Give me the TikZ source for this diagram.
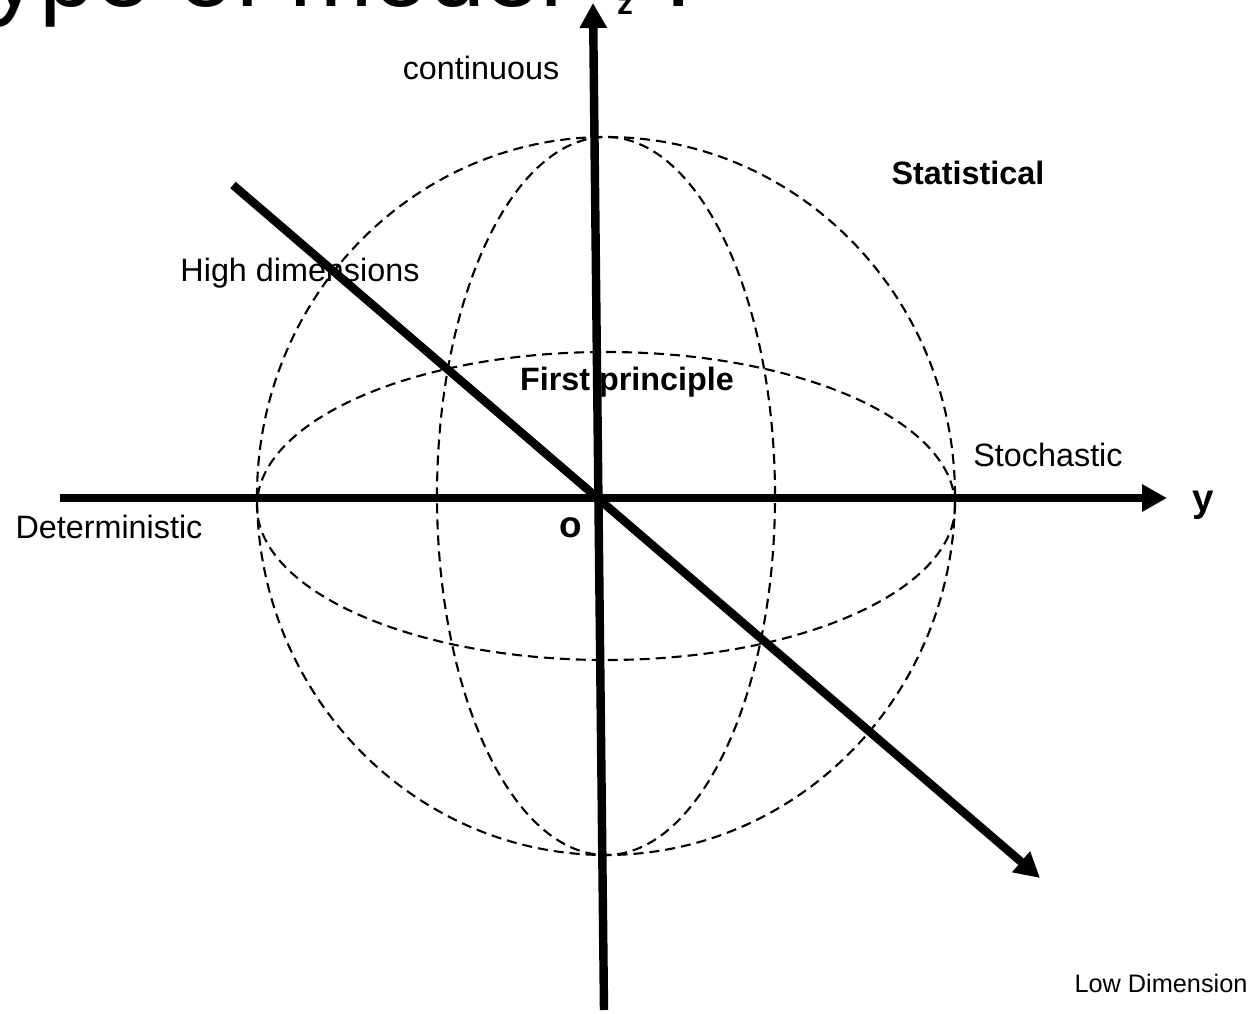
\documentclass[tikz,border=0pt]{standalone}
\usepackage{fontspec}
\setmainfont{Liberation Sans}
\usetikzlibrary{arrows.meta}

\begin{document}
\begin{tikzpicture}[
    axis/.style={line width=2.4pt, -{Triangle[length=0.25cm,width=0.26cm]}},
    guide/.style={dash pattern=on 0.1cm off 0.06cm, line width=0.6pt},
    lbl/.style={font=\fontsize{9.2}{11}\selectfont, inner sep=0pt},
    blbl/.style={font=\fontsize{9.2}{11}\selectfont\bfseries, inner sep=0pt}
]
    \useasboundingbox (0,0) rectangle (12.56,10.13);

    % Title, mostly off the page
    \node[anchor=base west, inner sep=0pt, font=\fontsize{28.5}{30}\selectfont] (title) at (-0.67,10.06) {Type of model\hspace{0.9em}?};

    % Sphere
    \draw[guide] (6.06,5.17) ellipse [x radius=3.49, y radius=3.59];
    \draw[guide] (6.06,5.07) ellipse [x radius=3.49, y radius=1.54];
    \draw[guide] (6.06,5.17) ellipse [x radius=1.69, y radius=3.59];

    % Labels
    \node[lbl] (cont) at (4.81,9.45) {continuous};
    \node[blbl] (stat) at (9.68,8.40) {Statistical};
    \node[lbl] (high) at (3.00,7.40) {High dimensions};
    \node[blbl] (first) at (6.27,6.31) {First principle};
    \node[lbl] (stoch) at (10.48,5.58) {Stochastic};
    \node[lbl] (det) at (1.09,4.86) {Deterministic};
    \node[inner sep=0pt, font=\fontsize{10.5}{12}\selectfont\bfseries] (o) at (5.71,4.85) {o};
    \node[inner sep=0pt, font=\fontsize{11}{13}\selectfont\bfseries] (ylab) at (12.03,5.08) {y};
    \node[inner sep=0pt, font=\fontsize{9}{10}\selectfont\bfseries] (zlab) at (6.25,10.07) {z};
    \node[inner sep=0pt, font=\fontsize{7.2}{9}\selectfont] (low) at (11.61,0.30) {Low Dimension};

    % Axes
    \coordinate (O) at (5.98,5.15);
    \coordinate (yw) at (0.60,5.15);
    \coordinate (ye) at (11.67,5.15);
    \coordinate (zs) at (6.04,0.03);
    \coordinate (zn) at (5.93,10.10);
    \coordinate (xb) at (2.33,8.28);
    \coordinate (xf) at (10.40,1.35);
    \draw[axis] (yw) -- (ye);
    \draw[axis] (zs) -- (zn);
    \draw[axis] (xb) -- (xf);
\end{tikzpicture}
\end{document}
